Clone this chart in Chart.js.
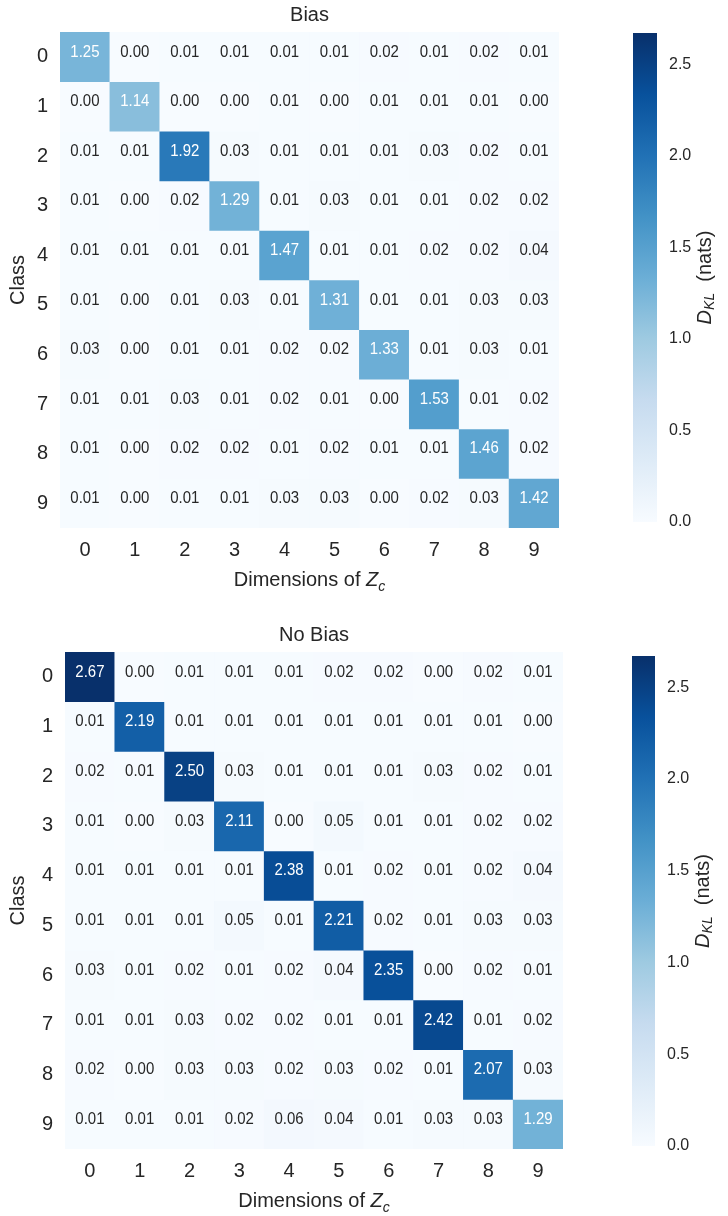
<!DOCTYPE html>
<html>
<head>
<meta charset="utf-8">
<script src="https://cdn.jsdelivr.net/npm/chart.js@4.4.1/dist/chart.umd.min.js"></script>
<style>
  body { margin: 0; background: #fff; width: 728px; height: 1216px; position: relative; overflow: hidden; }
  .box { position: absolute; }
</style>
</head>
<body>
<div class="box" style="left:0;top:0;width:600px;height:608px"><canvas id="biasMap"></canvas></div>
<div class="box" style="left:600px;top:0;width:128px;height:608px"><canvas id="biasBar"></canvas></div>
<div class="box" style="left:0;top:608px;width:600px;height:608px"><canvas id="noBiasMap"></canvas></div>
<div class="box" style="left:600px;top:608px;width:128px;height:608px"><canvas id="noBiasBar"></canvas></div>
<script>
// Chart data
const dims = ['0', '1', '2', '3', '4', '5', '6', '7', '8', '9'];
const classes = ['0', '1', '2', '3', '4', '5', '6', '7', '8', '9'];
const cbTicks = [0, 0.5, 1.0, 1.5, 2.0, 2.5];
const vmax = 2.67;

const biasValues = [
  [1.25, 0.00, 0.01, 0.01, 0.01, 0.01, 0.02, 0.01, 0.02, 0.01],
  [0.00, 1.14, 0.00, 0.00, 0.01, 0.00, 0.01, 0.01, 0.01, 0.00],
  [0.01, 0.01, 1.92, 0.03, 0.01, 0.01, 0.01, 0.03, 0.02, 0.01],
  [0.01, 0.00, 0.02, 1.29, 0.01, 0.03, 0.01, 0.01, 0.02, 0.02],
  [0.01, 0.01, 0.01, 0.01, 1.47, 0.01, 0.01, 0.02, 0.02, 0.04],
  [0.01, 0.00, 0.01, 0.03, 0.01, 1.31, 0.01, 0.01, 0.03, 0.03],
  [0.03, 0.00, 0.01, 0.01, 0.02, 0.02, 1.33, 0.01, 0.03, 0.01],
  [0.01, 0.01, 0.03, 0.01, 0.02, 0.01, 0.00, 1.53, 0.01, 0.02],
  [0.01, 0.00, 0.02, 0.02, 0.01, 0.02, 0.01, 0.01, 1.46, 0.02],
  [0.01, 0.00, 0.01, 0.01, 0.03, 0.03, 0.00, 0.02, 0.03, 1.42]
];

const noBiasValues = [
  [2.67, 0.00, 0.01, 0.01, 0.01, 0.02, 0.02, 0.00, 0.02, 0.01],
  [0.01, 2.19, 0.01, 0.01, 0.01, 0.01, 0.01, 0.01, 0.01, 0.00],
  [0.02, 0.01, 2.50, 0.03, 0.01, 0.01, 0.01, 0.03, 0.02, 0.01],
  [0.01, 0.00, 0.03, 2.11, 0.00, 0.05, 0.01, 0.01, 0.02, 0.02],
  [0.01, 0.01, 0.01, 0.01, 2.38, 0.01, 0.02, 0.01, 0.02, 0.04],
  [0.01, 0.01, 0.01, 0.05, 0.01, 2.21, 0.02, 0.01, 0.03, 0.03],
  [0.03, 0.01, 0.02, 0.01, 0.02, 0.04, 2.35, 0.00, 0.02, 0.01],
  [0.01, 0.01, 0.03, 0.02, 0.02, 0.01, 0.01, 2.42, 0.01, 0.02],
  [0.02, 0.00, 0.03, 0.03, 0.02, 0.03, 0.02, 0.01, 2.07, 0.03],
  [0.01, 0.01, 0.01, 0.02, 0.06, 0.04, 0.01, 0.03, 0.03, 1.29]
];

const FONT = "'Liberation Sans', Arial, sans-serif";
const TEXT = '#262626';

// matplotlib "Blues" colormap stops
const bluesStops = ['#f7fbff', '#deebf7', '#c6dbef', '#9ecae1', '#6baed6', '#4292c6', '#2171b5', '#08519c', '#08306b'];

function hexToRgb(h) {
  return [parseInt(h.slice(1, 3), 16), parseInt(h.slice(3, 5), 16), parseInt(h.slice(5, 7), 16)];
}

function bluesRgb(t) {
  t = Math.max(0, Math.min(1, t));
  const pos = t * (bluesStops.length - 1);
  const i = Math.min(Math.floor(pos), bluesStops.length - 2);
  const f = pos - i;
  const a = hexToRgb(bluesStops[i]), b = hexToRgb(bluesStops[i + 1]);
  return a.map((v, k) => Math.round(v + (b[k] - v) * f));
}

function blues(t) {
  const c = bluesRgb(t);
  return `rgb(${c[0]},${c[1]},${c[2]})`;
}

function luminance(rgb) {
  const lin = rgb.map(v => {
    v /= 255;
    return v <= 0.03928 ? v / 12.92 : Math.pow((v + 0.055) / 1.055, 2.4);
  });
  return 0.2126 * lin[0] + 0.7152 * lin[1] + 0.0722 * lin[2];
}

// draw a row of text pieces (mixed fonts / subscripts), centred on x
function drawRuns(ctx, runs, x, y) {
  let total = 0;
  runs.forEach(r => { ctx.font = r.font; total += ctx.measureText(r.text).width; });
  let cx = x - total / 2;
  ctx.textAlign = 'left';
  runs.forEach(r => {
    ctx.font = r.font;
    ctx.fillText(r.text, cx, y + (r.dy || 0));
    cx += ctx.measureText(r.text).width;
  });
}

// write the value inside each cell
const cellLabels = {
  id: 'cellLabels',
  afterDatasetsDraw(chart) {
    const ctx = chart.ctx;
    ctx.save();
    ctx.font = `15px ${FONT}`;
    ctx.textAlign = 'center';
    ctx.textBaseline = 'middle';
    chart.data.datasets.forEach((ds, r) => {
      chart.getDatasetMeta(r).data.forEach((bar, c) => {
        const v = ds.cellValues[c];
        const lum = luminance(bluesRgb(v / vmax));
        ctx.fillStyle = lum < 0.6 ? '#ffffff' : TEXT;
        ctx.save();
        ctx.translate(bar.x, (bar.y + bar.base) / 2 - 5);
        ctx.scale(1, 1.15);
        ctx.fillText(v.toFixed(2), 0, 0);
        ctx.restore();
      });
    });
    ctx.restore();
  }
};

// panel title and x axis title (with italic Z and subscript c)
const panelText = {
  id: 'panelText',
  afterDraw(chart, args, opts) {
    const ctx = chart.ctx;
    const area = chart.chartArea;
    const mid = (area.left + area.right) / 2;
    ctx.save();
    ctx.fillStyle = TEXT;
    ctx.textBaseline = 'alphabetic';
    drawRuns(ctx, [{ text: opts.title, font: `20px ${FONT}` }], mid, area.top - 11);
    drawRuns(ctx, [
      { text: 'Dimensions of ', font: `20px ${FONT}` },
      { text: 'Z', font: `italic 20px ${FONT}` },
      { text: 'c', font: `italic 14px ${FONT}`, dy: 5 }
    ], mid, area.bottom + 58);
    ctx.restore();
  }
};

// colorbar label, rotated
const cbLabel = {
  id: 'cbLabel',
  afterDraw(chart) {
    const ctx = chart.ctx;
    const area = chart.chartArea;
    ctx.save();
    ctx.fillStyle = TEXT;
    ctx.translate(area.right + 48, (area.top + area.bottom) / 2);
    ctx.rotate(-Math.PI / 2);
    ctx.textBaseline = 'middle';
    drawRuns(ctx, [
      { text: 'D', font: `italic 20px ${FONT}` },
      { text: 'KL', font: `italic 14px ${FONT}`, dy: 5 },
      { text: '  (nats)', font: `20px ${FONT}` }
    ], 0, 0);
    ctx.restore();
  }
};

function makeHeatmap(id, title, values, frame) {
  const ctx = document.getElementById(id).getContext('2d');
  return new Chart(ctx, {
    type: 'bar',
    data: {
      labels: dims,
      datasets: classes.map((c, r) => ({
        label: c,
        data: values[r].map(() => 1), // each cell is one unit tall
        cellValues: values[r],
        backgroundColor: values[r].map(v => blues(v / vmax)),
        borderWidth: 0,
        barPercentage: 1,
        categoryPercentage: 1
      }))
    },
    options: {
      responsive: true,
      maintainAspectRatio: false,
      animation: false,
      layout: { padding: { top: frame.top, right: frame.right, left: 0, bottom: 0 } },
      plugins: {
        legend: { display: false },
        tooltip: { enabled: false },
        panelText: { title: title }
      },
      scales: {
        x: {
          stacked: true,
          grid: { display: false, drawTicks: false },
          border: { display: false },
          ticks: { padding: 10, color: TEXT, font: { size: 20, family: FONT } },
          afterFit: s => { s.height = frame.bottom; }
        },
        y: {
          stacked: true,
          min: 0,
          max: 10,
          reverse: true,
          grid: { display: false, drawTicks: false },
          border: { display: false },
          afterBuildTicks: s => { s.ticks = classes.map((c, i) => ({ value: i + 0.5 })); },
          ticks: {
            autoSkip: false,
            padding: 12,
            color: TEXT,
            font: { size: 20, family: FONT },
            callback: v => classes[Math.floor(v)]
          },
          title: {
            display: true,
            text: 'Class',
            color: TEXT,
            padding: { top: 6, bottom: 0 },
            font: { size: 20, family: FONT }
          },
          afterFit: s => { s.width = frame.left; }
        }
      }
    },
    plugins: [cellLabels, panelText]
  });
}

function makeColorbar(id, frame) {
  const ctx = document.getElementById(id).getContext('2d');
  return new Chart(ctx, {
    type: 'bar',
    data: {
      labels: ['cb'],
      datasets: [{
        data: [[0, vmax]],
        backgroundColor: c => {
          const area = c.chart.chartArea;
          if (!area) return bluesStops[4];
          const g = c.chart.ctx.createLinearGradient(0, area.bottom, 0, area.top);
          bluesStops.forEach((col, i) => g.addColorStop(i / (bluesStops.length - 1), col));
          return g;
        },
        borderWidth: 0,
        barPercentage: 1,
        categoryPercentage: 1
      }]
    },
    options: {
      responsive: true,
      maintainAspectRatio: false,
      animation: false,
      layout: { padding: { left: frame.left, top: frame.top, bottom: frame.bottom, right: 0 } },
      plugins: { legend: { display: false }, tooltip: { enabled: false } },
      scales: {
        x: { display: false },
        y: {
          position: 'right',
          min: 0,
          max: vmax,
          grid: { display: false, drawTicks: false },
          border: { display: false },
          afterBuildTicks: s => { s.ticks = cbTicks.map(v => ({ value: v })); },
          ticks: {
            padding: 12,
            color: TEXT,
            font: { size: 16, family: FONT },
            callback: v => v.toFixed(1)
          },
          afterFit: s => { s.width = frame.right; }
        }
      }
    },
    plugins: [cbLabel]
  });
}

makeHeatmap('biasMap', 'Bias', biasValues, { top: 32, left: 60, right: 41, bottom: 80 });
makeColorbar('biasBar', { left: 33, top: 33, bottom: 86, right: 71 });
makeHeatmap('noBiasMap', 'No Bias', noBiasValues, { top: 44, left: 65, right: 37, bottom: 67 });
makeColorbar('noBiasBar', { left: 32, top: 48, bottom: 70, right: 73 });
</script>
</body>
</html>
